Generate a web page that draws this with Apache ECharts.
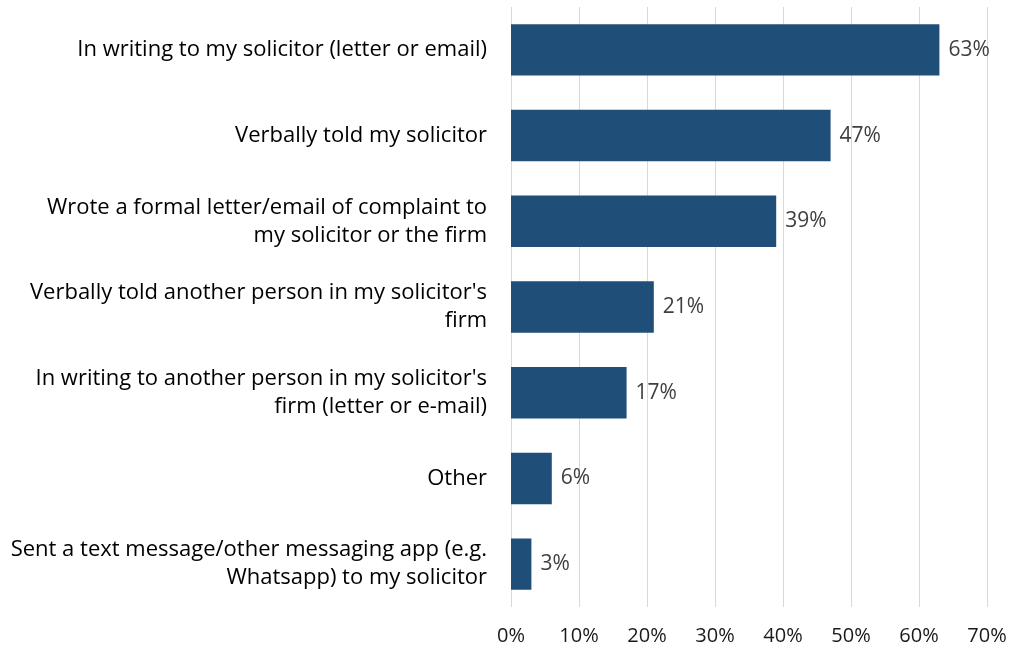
<!DOCTYPE html>
<html>
<head>
<meta charset="utf-8">
<script src="https://cdn.jsdelivr.net/npm/echarts@6/dist/echarts.min.js"></script>
<style>
  html, body { margin: 0; padding: 0; background: #fff; }
  #chart { width: 1010px; height: 646px; }
</style>
</head>
<body>
<div id="chart"></div>
<script>
// Ways respondents raised their complaint (share of respondents, %)
const categories = [
  'In writing to my solicitor (letter or email)',
  'Verbally told my solicitor',
  'Wrote a formal letter/email of complaint to\nmy solicitor or the firm',
  "Verbally told another person in my solicitor's\nfirm",
  "In writing to another person in my solicitor's\nfirm (letter or e-mail)",
  'Other',
  'Sent a text message/other messaging app (e.g.\nWhatsapp) to my solicitor'
];
const values = [63, 47, 39, 21, 17, 6, 3];
const tickValues = [0, 10, 20, 30, 40, 50, 60, 70];

const FONT = '"Open Sans", "Noto Sans", sans-serif';

const chart = echarts.init(document.getElementById('chart'), null, { renderer: 'canvas' });
chart.setOption({
  animation: false,
  grid: { left: 511, right: 23, top: 7, bottom: 39, containLabel: false },
  xAxis: {
    type: 'value',
    min: tickValues[0],
    max: tickValues[tickValues.length - 1],
    interval: 10,
    axisLine: { show: false },
    axisTick: { show: false },
    splitLine: { show: true, lineStyle: { color: '#d9d9d9', width: 1 } },
    axisLabel: {
      formatter: v => v + '%',
      color: '#1a1a1a',
      fontFamily: FONT,
      fontSize: 20,
      margin: 19
    }
  },
  yAxis: {
    type: 'category',
    inverse: true,
    data: categories,
    axisLine: { show: false },
    axisTick: { show: false },
    axisLabel: {
      color: '#000',
      fontFamily: FONT,
      fontSize: 22,
      lineHeight: 28,
      align: 'right',
      margin: 24,
      padding: [4, 0, 0, 0]
    }
  },
  series: [{
    type: 'bar',
    data: values,
    barCategoryGap: '40%',
    itemStyle: { color: '#1f4e79' },
    label: {
      show: true,
      position: 'right',
      distance: 9,
      padding: [4, 0, 0, 0],
      formatter: p => p.value + '%',
      color: '#404040',
      fontFamily: FONT,
      fontSize: 21
    }
  }]
});
</script>
</body>
</html>
